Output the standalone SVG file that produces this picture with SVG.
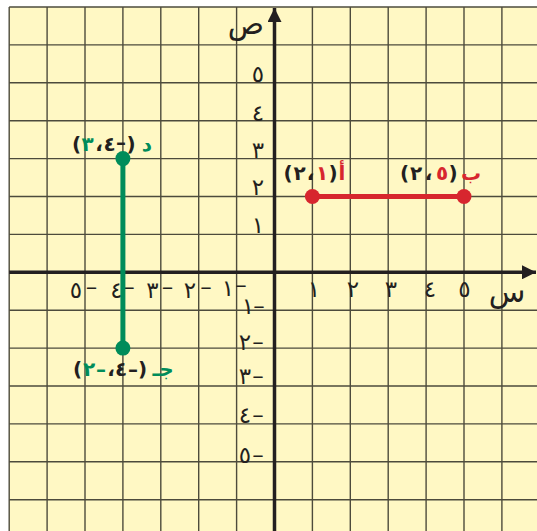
<svg xmlns="http://www.w3.org/2000/svg" width="537" height="531" viewBox="0 0 537 531">
<style>
.grid line{stroke:#4d4b3c;stroke-width:1.4}
.ax{stroke:#231f20;stroke-width:3.5}
text{font-family:"DejaVu Sans",sans-serif;fill:#231f20}
.n{font-size:23px;text-anchor:middle}
.p{font-size:20px;font-weight:bold;text-anchor:middle}
.r{fill:#d7262e}
.g{fill:#008c5a}
</style>
<defs>
<marker id="arr" viewBox="0 0 10 10" refX="10" refY="5" markerWidth="4.3" markerHeight="4" orient="auto" markerUnits="strokeWidth">
<path d="M0,0 L10,5 L0,10 Z" fill="#231f20"/>
</marker>
</defs>
<rect x="0" y="0" width="537" height="531" fill="#ffffff"/>
<rect x="9.2" y="7" width="528" height="524" fill="#fff8c4"/>
<g id="grid" class="grid">
<line x1="9.2" y1="7" x2="9.2" y2="531"/>
<line x1="47.1" y1="7" x2="47.1" y2="531"/>
<line x1="85" y1="7" x2="85" y2="531"/>
<line x1="122.9" y1="7" x2="122.9" y2="531"/>
<line x1="160.8" y1="7" x2="160.8" y2="531"/>
<line x1="198.7" y1="7" x2="198.7" y2="531"/>
<line x1="236.6" y1="7" x2="236.6" y2="531"/>
<line x1="312.4" y1="7" x2="312.4" y2="531"/>
<line x1="350.3" y1="7" x2="350.3" y2="531"/>
<line x1="388.2" y1="7" x2="388.2" y2="531"/>
<line x1="426.1" y1="7" x2="426.1" y2="531"/>
<line x1="464" y1="7" x2="464" y2="531"/>
<line x1="501.9" y1="7" x2="501.9" y2="531"/>
<line x1="9.2" y1="7" x2="537" y2="7"/>
<line x1="9.2" y1="44.9" x2="537" y2="44.9"/>
<line x1="9.2" y1="82.8" x2="537" y2="82.8"/>
<line x1="9.2" y1="120.7" x2="537" y2="120.7"/>
<line x1="9.2" y1="158.6" x2="537" y2="158.6"/>
<line x1="9.2" y1="196.5" x2="537" y2="196.5"/>
<line x1="9.2" y1="234.4" x2="537" y2="234.4"/>
<line x1="9.2" y1="310.2" x2="537" y2="310.2"/>
<line x1="9.2" y1="348.1" x2="537" y2="348.1"/>
<line x1="9.2" y1="386" x2="537" y2="386"/>
<line x1="9.2" y1="423.9" x2="537" y2="423.9"/>
<line x1="9.2" y1="461.8" x2="537" y2="461.8"/>
<line x1="9.2" y1="499.7" x2="537" y2="499.7"/>
</g>
<g id="axes">
<line class="ax" x1="9.2" y1="272.3" x2="536" y2="272.3" marker-end="url(#arr)"/>
<line class="ax" x1="274.5" y1="531" x2="274.5" y2="8" marker-end="url(#arr)"/>
<text x="246" y="34" style="font-size:30px;text-anchor:middle">ص</text>
<text x="507" y="302" style="font-size:30px;text-anchor:middle">س</text>
</g>
<g id="x-labels">
<text class="n" x="314" y="297">١</text>
<text class="n" x="353" y="297">٢</text>
<text class="n" x="391" y="297">٣</text>
<text class="n" x="430" y="297">٤</text>
<text class="n" x="464.5" y="297">٥</text>
<text class="n" y="298"><tspan x="76">٥</tspan><tspan x="91.5" dy="-3">–</tspan></text>
<text class="n" y="298"><tspan x="116.5">٤</tspan><tspan x="129" dy="-3">–</tspan></text>
<text class="n" y="298"><tspan x="152.5">٣</tspan><tspan x="167.5" dy="-3">–</tspan></text>
<text class="n" y="298"><tspan x="190">٢</tspan><tspan x="206" dy="-3">–</tspan></text>
<text class="n" y="296"><tspan x="228">١</tspan><tspan x="241" dy="-3">–</tspan></text>
</g>
<g id="y-labels">
<text class="n" x="258" y="82">٥</text>
<text class="n" x="258" y="121">٤</text>
<text class="n" x="258" y="158">٣</text>
<text class="n" x="258" y="195">٢</text>
<text class="n" x="258" y="233">١</text>
<text class="n" y="314"><tspan x="248">١</tspan><tspan x="259">–</tspan></text>
<text class="n" y="350"><tspan x="245">٢</tspan><tspan x="258">–</tspan></text>
<text class="n" y="384"><tspan x="245">٣</tspan><tspan x="258">–</tspan></text>
<text class="n" y="423"><tspan x="245">٤</tspan><tspan x="258">–</tspan></text>
<text class="n" y="463"><tspan x="245">٥</tspan><tspan x="258">–</tspan></text>
</g>
<g id="segments">
<line x1="312.4" y1="196.5" x2="464" y2="196.5" stroke="#d7262e" stroke-width="5"/>
<line x1="122.9" y1="158.6" x2="122.9" y2="348.1" stroke="#008c5a" stroke-width="5"/>
</g>
<g id="point-A">
<circle cx="312.4" cy="196.5" r="7.5" fill="#d7262e"/>
<text class="p" y="180"><tspan x="288">(</tspan><tspan x="299.5">٢</tspan><tspan x="310.5">،</tspan><tspan x="322" class="r">١</tspan><tspan x="333">)</tspan><tspan x="342" class="r">أ</tspan></text>
</g>
<g id="point-B">
<circle cx="464" cy="196.5" r="7.5" fill="#d7262e"/>
<text class="p" y="180"><tspan x="404.5">(</tspan><tspan x="416">٢</tspan><tspan x="428.5">،</tspan><tspan x="442" class="r">٥</tspan><tspan x="453">)</tspan><tspan x="471" class="r">ب</tspan></text>
</g>
<g id="point-D">
<circle cx="122.9" cy="158.6" r="7.5" fill="#008c5a"/>
<text class="p" y="151"><tspan x="76.5">(</tspan><tspan x="87.5" class="g">٣</tspan><tspan x="99">،</tspan><tspan x="109.5">٤</tspan><tspan x="121" dy="-2">–</tspan><tspan x="131" dy="2">)</tspan><tspan x="147" class="g">د</tspan></text>
</g>
<g id="point-C">
<circle cx="122.9" cy="348.1" r="7.5" fill="#008c5a"/>
<text class="p" y="376"><tspan x="77.5">(</tspan><tspan x="89" class="g">٢</tspan><tspan x="101" class="g">–</tspan><tspan x="111">،</tspan><tspan x="121">٤</tspan><tspan x="133">–</tspan><tspan x="142.5">)</tspan><tspan x="163" class="g">جـ</tspan></text>
</g>
</svg>
